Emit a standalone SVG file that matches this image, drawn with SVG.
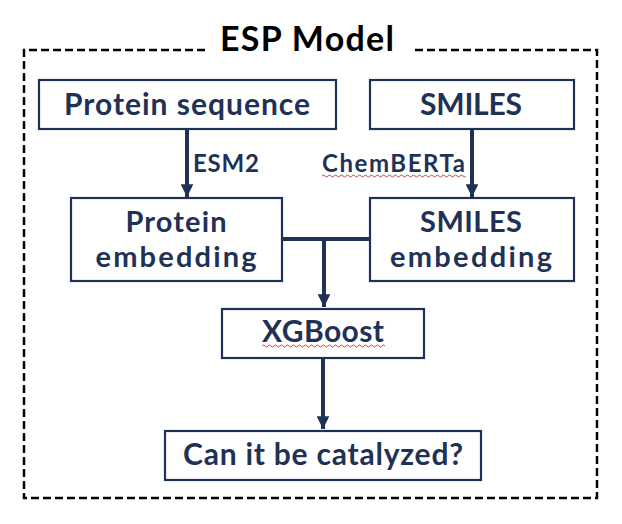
<svg xmlns="http://www.w3.org/2000/svg" width="622" height="524" viewBox="0 0 622 524">
<defs>
<style>
.box{fill:#fff;stroke:#1f3256;stroke-width:2.2}
.t{font-family:Lato,"Open Sans",sans-serif;font-weight:bold;fill:#1f3256;text-anchor:middle;font-size:30px}
.t2{font-size:29px}
.lbl{font-family:Lato,"Open Sans",sans-serif;font-weight:bold;fill:#1f3256;font-size:24px}
.c{stroke:#1f3256;stroke-width:4;fill:none}
.sq{stroke:#e23a3a;stroke-width:1;fill:none}
</style>
<marker id="ah" viewBox="0 0 10 10" refX="10" refY="5" markerWidth="3.2" markerHeight="3.2" orient="auto" markerUnits="strokeWidth">
<path d="M0,0 L10,5 L0,10 z" fill="#1f3256"/>
</marker>
</defs>
<rect width="622" height="524" fill="#fff"/>
<g id="frame">
<path d="M205,50 H24 V498 H597 V50 H412" fill="none" stroke="#000" stroke-width="2.5" stroke-dasharray="8,4"/>
<text x="307" y="51" textLength="174" style="font-family:Lato,'Open Sans',sans-serif;font-weight:bold;font-size:34px;fill:#000;text-anchor:middle">ESP Model</text>
</g>
<g id="connectors">
<line class="c" x1="187" y1="129" x2="187" y2="197" marker-end="url(#ah)"/>
<line class="c" x1="472" y1="129" x2="472" y2="197" marker-end="url(#ah)"/>
<line class="c" x1="282" y1="239" x2="370" y2="239"/>
<line class="c" x1="324" y1="239" x2="324" y2="307" marker-end="url(#ah)"/>
<line class="c" x1="323" y1="359" x2="323" y2="429" marker-end="url(#ah)"/>
<text class="lbl" x="193" y="172" textLength="66">ESM2</text>
<text class="lbl" x="322" y="172" textLength="143">ChemBERTa</text>
<path class="sq" d="M322,176 q1.5,-2 3,0 t3,0 t3,0 t3,0 t3,0 t3,0 t3,0 t3,0 t3,0 t3,0 t3,0 t3,0 t3,0 t3,0 t3,0 t3,0 t3,0 t3,0 t3,0 t3,0 t3,0 t3,0 t3,0 t3,0 t3,0 t3,0 t3,0 t3,0 t3,0 t3,0 t3,0 t3,0 t3,0 t3,0 t3,0 t3,0 t3,0 t3,0 t3,0 t3,0 t3,0 t3,0 t3,0 t3,0 t3,0 t3,0 t3,0 t3,0"/>
</g>
<g id="protein-sequence">
<rect class="box" x="39" y="80" width="297" height="49"/>
<text class="t" x="187" y="115" textLength="246">Protein sequence</text>
</g>
<g id="smiles">
<rect class="box" x="370" y="80" width="204" height="49"/>
<text class="t" x="471" y="115" textLength="102">SMILES</text>
</g>
<g id="protein-embedding">
<rect class="box" x="71" y="198" width="211" height="83"/>
<text class="t t2" x="176" y="232" textLength="101">Protein</text>
<text class="t t2" x="176" y="267" textLength="161">embedding</text>
</g>
<g id="smiles-embedding">
<rect class="box" x="370" y="198" width="204" height="83"/>
<text class="t t2" x="471" y="232" textLength="102">SMILES</text>
<text class="t t2" x="471" y="267" textLength="162">embedding</text>
</g>
<g id="xgboost">
<rect class="box" x="222" y="309" width="202" height="49"/>
<text class="t" x="323" y="342" textLength="122">XGBoost</text>
<path class="sq" d="M262,346 q1.5,-2 3,0 t3,0 t3,0 t3,0 t3,0 t3,0 t3,0 t3,0 t3,0 t3,0 t3,0 t3,0 t3,0 t3,0 t3,0 t3,0 t3,0 t3,0 t3,0 t3,0 t3,0 t3,0 t3,0 t3,0 t3,0 t3,0 t3,0 t3,0 t3,0 t3,0 t3,0 t3,0 t3,0 t3,0 t3,0 t3,0 t3,0 t3,0 t3,0 t3,0 t3,0"/>
</g>
<g id="catalyzed">
<rect class="box" x="165" y="431" width="316" height="49"/>
<text class="t" x="323" y="465" textLength="280">Can it be catalyzed?</text>
</g>
</svg>
